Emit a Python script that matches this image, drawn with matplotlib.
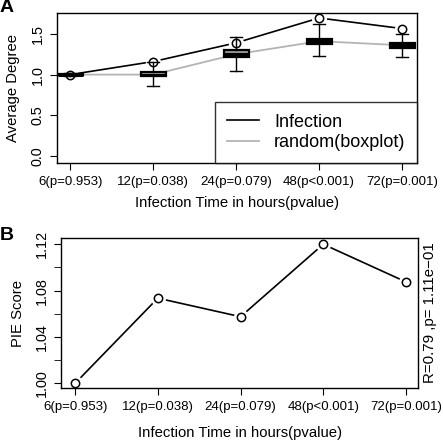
import numpy as np
import matplotlib
matplotlib.use("Agg")
import matplotlib.pyplot as plt
from matplotlib.lines import Line2D

# ---- data ----
hours = ["6(p=0.953)", "12(p=0.038)", "24(p=0.079)", "48(p<0.001)", "72(p=0.001)"]
infection_deg = [1.00, 1.16, 1.39, 1.695, 1.565]

# random networks (boxplot summaries)
rand_med = [1.00, 1.00, 1.25, 1.41, 1.36]
rand_q1 = [0.99, 0.98, 1.21, 1.38, 1.33]
rand_q3 = [1.01, 1.03, 1.30, 1.44, 1.39]
rand_lo = [0.98, 0.86, 1.05, 1.225, 1.21]
rand_hi = [1.02, 1.16, 1.46, 1.615, 1.50]

pie_score = [1.000, 1.0735, 1.0575, 1.120, 1.0875]
corr_text = "R=0.79 ,p= 1.11e\u221201"

plt.rcParams.update({
    "font.family": ["Liberation Sans", "DejaVu Sans"],
    "font.size": 9.5,
    "xtick.labelsize": 9.5,
    "ytick.labelsize": 10.4,
    "axes.linewidth": 1.0,
    "xtick.major.size": 5, "ytick.major.size": 5,
    "ytick.minor.size": 5,
    "xtick.major.pad": 4, "ytick.major.pad": 4,
})

W, H = 443, 448
fig = plt.figure(figsize=(W / 100, H / 100), dpi=100)

def px_axes(l, t, r, b):
    return fig.add_axes([l / W, 1 - b / H, (r - l) / W, (b - t) / H])

def r_style_yticks(ax):
    for lab in ax.get_yticklabels():
        lab.set_rotation(90)
        lab.set_va("center")
        lab.set_ha("right")

def gapped_line(ax, x, y, color, lw, gap_pt=4.5, msize=6):
    # R type="b": line broken around open circles
    ax.plot(x, y, color=color, lw=lw, zorder=2, solid_capstyle="butt")
    ax.plot(x, y, ls="none", marker="o", ms=msize + 2 * gap_pt - 4,
            mfc="white", mec="none", zorder=2.5)
    ax.plot(x, y, ls="none", marker="o", ms=msize, mfc="none",
            mec=color, mew=1.1, zorder=5)

x = np.arange(1, len(hours) + 1)

# ---- Panel A ----
axA = px_axes(57, 13, 417, 163)
gapped_line(axA, x, infection_deg, "black", 1.2)

axA.plot(x, rand_med, color="#b4b4b4", lw=1.3, zorder=3)
stats = [dict(med=m, q1=a, q3=b, whislo=lo, whishi=hi, fliers=[])
         for m, a, b, lo, hi in zip(rand_med, rand_q1, rand_q3, rand_lo, rand_hi)]
box_fill = ["black", "#9a9a9a", "#9a9a9a", "#9a9a9a", "black"]
bp = axA.bxp(stats, positions=x, widths=0.3, capwidths=0.15,
             patch_artist=True, manage_ticks=False, zorder=4,
             boxprops=dict(edgecolor="black", lw=1.6),
             medianprops=dict(color="black", lw=2.2),
             whiskerprops=dict(color="black", lw=1.0),
             capprops=dict(color="black", lw=1.0))
for patch, fc in zip(bp["boxes"], box_fill):
    patch.set_facecolor(fc)

axA.set_xlim(0.84, 5.18)
axA.set_ylim(-0.085, 1.756)
axA.set_xticks(x)
axA.set_xticklabels(hours)
axA.set_yticks([0.0, 0.5, 1.0, 1.5])
axA.set_yticklabels(["0.0", "0.5", "1.0", "1.5"])
r_style_yticks(axA)
axA.set_ylabel("Average Degree", fontsize=10.7)
axA.yaxis.set_label_coords(-0.122, 0.5)
axA.yaxis.label.set_va("center")
axA.set_xlabel("Infection Time in hours(pvalue)", fontsize=10.7)
axA.xaxis.set_label_coords(0.5, -0.267)
axA.xaxis.label.set_va("center")

handles = [Line2D([], [], color="black", lw=1.2),
           Line2D([], [], color="#b4b4b4", lw=1.3)]
leg = axA.legend(handles, ["Infection", "random(boxplot)"], loc="lower right",
                 bbox_to_anchor=(1.0, 0.0), borderaxespad=0, fontsize=13,
                 frameon=True, fancybox=False, edgecolor="black",
                 handlelength=1.8, handletextpad=0.8, borderpad=0.65,
                 labelspacing=0.2)
leg.get_frame().set_linewidth(1.0)
leg.set_zorder(6)

# ---- Panel B ----
axB = px_axes(61, 238, 418, 388)
gapped_line(axB, x, pie_score, "black", 1.2)
axB.set_xlim(0.83, 5.145)
axB.set_ylim(0.996, 1.1254)
axB.set_xticks(x)
axB.set_xticklabels(hours)
axB.set_yticks([1.00, 1.04, 1.08, 1.12])
axB.set_yticklabels(["1.00", "1.04", "1.08", "1.12"])
axB.set_yticks([1.02, 1.06, 1.10], minor=True)
r_style_yticks(axB)
axB.set_ylabel("PIE Score", fontsize=10.7)
axB.yaxis.set_label_coords(-0.12, 0.5)
axB.yaxis.label.set_va("center")
axB.set_xlabel("Infection Time in hours(pvalue)", fontsize=10.7)
axB.xaxis.set_label_coords(0.5, -0.30)
axB.xaxis.label.set_va("center")

fig.text(430 / W, 1 - 313 / H, corr_text, rotation=90, ha="center",
         va="center", fontsize=10.8)

fig.text(7 / W, 1 - 7 / H, "A", fontsize=14, fontweight="bold",
         ha="center", va="center")
fig.text(7 / W, 1 - 235 / H, "B", fontsize=14, fontweight="bold",
         ha="center", va="center")

fig.savefig("out.png", dpi=100, facecolor="white")
